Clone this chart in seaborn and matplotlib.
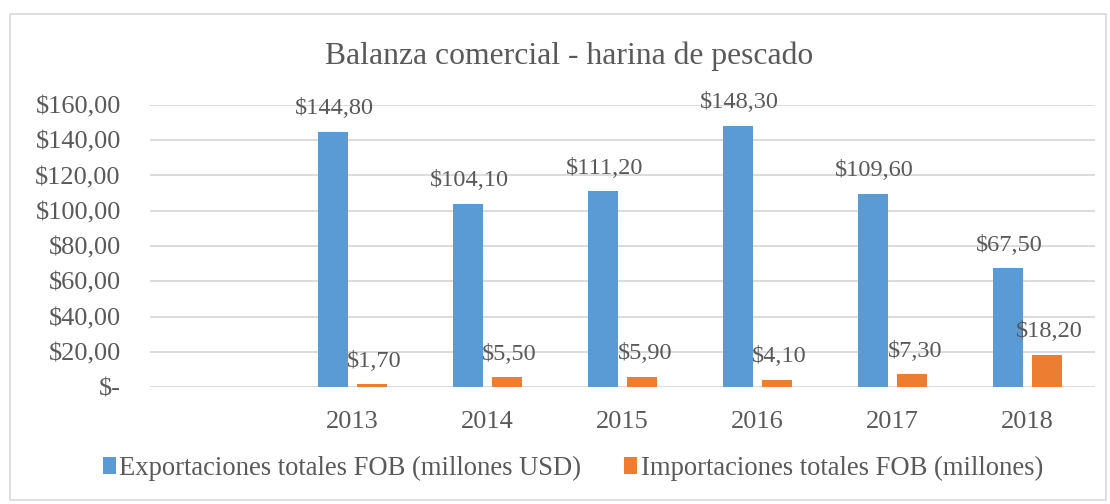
import matplotlib
matplotlib.use("Agg")
import matplotlib.pyplot as plt
import seaborn as sns
import pandas as pd
import numpy as np
from matplotlib.patches import Rectangle, Patch

categories = ["", "2013", "2014", "2015", "2016", "2017", "2018"]
exportaciones = [np.nan, 144.80, 104.10, 111.20, 148.30, 109.60, 67.50]
importaciones = [np.nan, 1.70, 5.50, 5.90, 4.10, 7.30, 18.20]
series_names = ["Exportaciones totales FOB (millones USD)",
                "Importaciones totales FOB (millones)"]
y_ticks = [0, 20, 40, 60, 80, 100, 120, 140, 160]
title = "Balanza comercial - harina de pescado"

colors = ["#5B9BD5", "#ED7D31"]
text_color = "#595959"
grid_color = "#D9D9D9"

df = pd.DataFrame({
    "cat": categories * 2,
    "val": exportaciones + importaciones,
    "serie": [series_names[0]] * len(categories) + [series_names[1]] * len(categories),
})

sns.set_theme(style="white")
plt.rcParams["font.family"] = ["Liberation Serif", "DejaVu Serif"]

fig = plt.figure(figsize=(11.10, 5.04), dpi=100)
ax = fig.add_axes([150 / 1110, 1 - 387 / 504, (1095 - 150) / 1110, (387 - 105) / 504])

sns.barplot(data=df, x="cat", y="val", hue="serie", order=categories,
            hue_order=series_names, palette=colors, width=0.578,
            ax=ax, legend=False, errorbar=None, saturation=1)

bar_w = 30 / 135
for p in ax.patches:
    c = p.get_x() + p.get_width() / 2
    p.set_width(bar_w)
    p.set_x(c - bar_w / 2)
    p.set_edgecolor("none")

def fmt(v):
    return "$" + f"{v:,.2f}".replace(",", "X").replace(".", ",").replace("X", ".")

for cont_i, container in enumerate(ax.containers):
    for p in container.patches:
        h = p.get_height()
        if np.isnan(h) or h == 0:
            continue
        ax.annotate(fmt(h), (p.get_x() + p.get_width() / 2, h),
                    xytext=(2 if cont_i == 1 else 1, 9), textcoords="offset points",
                    ha="center", va="bottom", fontsize=17.6, color=text_color)

ax.set_ylim(0, 160)
ax.set_xlim(-0.5, len(categories) - 0.5)
ax.set_yticks(y_ticks)
ax.set_yticklabels(["$-"] + ["$" + f"{t},00" for t in y_ticks[1:]])
ax.yaxis.grid(True, color=grid_color, linewidth=1.3)
ax.set_axisbelow(True)
for s in ["top", "right", "left", "bottom"]:
    ax.spines[s].set_visible(False)
ax.tick_params(axis="both", length=0, labelsize=19, colors=text_color)
ax.tick_params(axis="y", pad=21)
ax.tick_params(axis="x", pad=17)
ax.set_xlabel("")
ax.set_ylabel("")

fig.text(0.513, 1 - 56 / 504, title, ha="center", va="center",
         fontsize=22.8, color=text_color)

handles = [Patch(facecolor=colors[i], edgecolor="none") for i in range(2)]
fig.legend(handles, series_names, loc="center", bbox_to_anchor=(0.516, 1 - 468 / 504),
           ncol=2, frameon=False, fontsize=19.2, handlelength=0.5, handleheight=0.6,
           handletextpad=0.12, columnspacing=1.6, labelcolor=text_color)

fig.patches.append(Rectangle((10 / 1110, 4 / 504), 1096 / 1110, 486 / 504,
                             transform=fig.transFigure, fill=False,
                             edgecolor="#D9D9D9", linewidth=1.2))

fig.savefig("out.png", dpi=100)
